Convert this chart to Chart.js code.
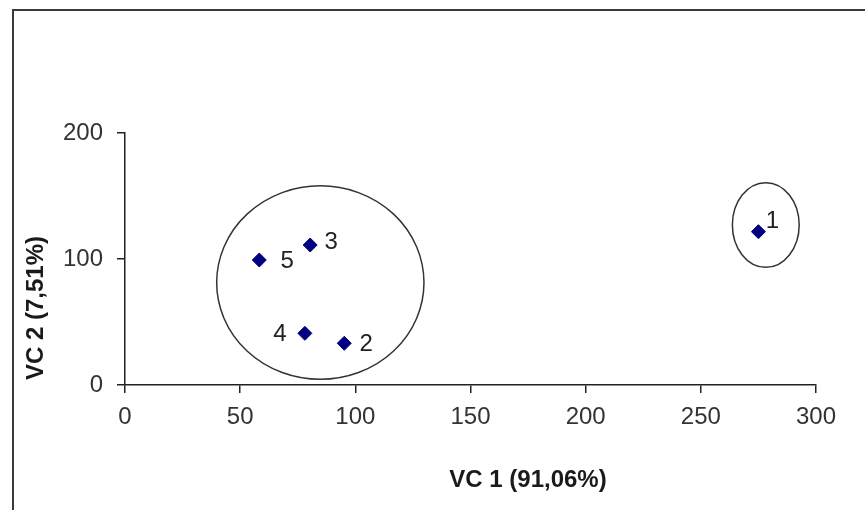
<!DOCTYPE html>
<html>
<head>
<meta charset="utf-8">
<script src="https://cdn.jsdelivr.net/npm/chart.js@4/dist/chart.umd.min.js"></script>
<style>
html,body{margin:0;padding:0;background:#fff;}
#wrap{position:relative;width:865px;height:510px;}
</style>
</head>
<body>
<div id="wrap"><canvas id="c" width="865" height="510"></canvas></div>
<script>
// ---- data ----
const pointLabels = ['1', '2', '3', '4', '5'];
const vc1Values = [275.0, 95.2, 80.4, 78.1, 58.3];
const vc2Values = [121.7, 33.1, 111.1, 41.0, 99.2];
const xTicks = [0, 50, 100, 150, 200, 250, 300];
const yTicks = [0, 100, 200];
const xTitle = 'VC 1 (91,06%)';
const yTitle = 'VC 2 (7,51%)';
// cluster ellipses (data units): centre x, centre y, radius x, radius y
const ellipseCx = [84.8, 278.2];
const ellipseCy = [81.3, 127.0];
const ellipseRx = [45.0, 14.5];
const ellipseRy = [76.8, 33.6];

// ---- styling (pixel offsets for point labels) ----
const labelDx = [14, 22, 21, -25, 28];
const labelDy = [-10, 1, -3, 1, 1];

const points = vc1Values.map((x, i) => ({x: x, y: vc2Values[i]}));

const decor = {
  id: 'decor',
  beforeDraw(chart) {
    const ctx = chart.ctx;
    ctx.save();
    ctx.strokeStyle = '#3a3a3a';
    ctx.lineWidth = 2;
    ctx.strokeRect(13, 10, 900, 600);
    ctx.restore();
  },
  afterDatasetsDraw(chart) {
    const ctx = chart.ctx;
    const xs = chart.scales.x, ys = chart.scales.y;
    ctx.save();
    // ellipses
    ctx.strokeStyle = '#333';
    ctx.lineWidth = 1.5;
    for (let i = 0; i < ellipseCx.length; i++) {
      const cx = xs.getPixelForValue(ellipseCx[i]);
      const cy = ys.getPixelForValue(ellipseCy[i]);
      const rx = Math.abs(xs.getPixelForValue(ellipseCx[i] + ellipseRx[i]) - cx);
      const ry = Math.abs(ys.getPixelForValue(ellipseCy[i] + ellipseRy[i]) - cy);
      ctx.beginPath();
      ctx.ellipse(cx, cy, rx, ry, 0, 0, Math.PI * 2);
      ctx.stroke();
    }
    // point labels
    const meta = chart.getDatasetMeta(0);
    ctx.fillStyle = '#222';
    ctx.font = '24px "Liberation Sans", Arial, sans-serif';
    ctx.textAlign = 'center';
    ctx.textBaseline = 'middle';
    meta.data.forEach((el, i) => {
      ctx.fillText(pointLabels[i], el.x + labelDx[i], el.y + labelDy[i]);
    });
    // axis titles
    ctx.fillStyle = '#1a1a1a';
    ctx.font = 'bold 24px "Liberation Sans", Arial, sans-serif';
    ctx.fillText(xTitle, 528, 480);
    ctx.translate(36, 308);
    ctx.rotate(-Math.PI / 2);
    ctx.fillText(yTitle, 0, 0);
    ctx.restore();
  }
};

new Chart(document.getElementById('c'), {
  type: 'scatter',
  data: {
    datasets: [{
      data: points,
      pointStyle: 'rectRot',
      pointRadius: 7,
      pointHoverRadius: 7,
      backgroundColor: '#000080',
      borderColor: '#000080',
      borderWidth: 1
    }]
  },
  options: {
    responsive: false,
    animation: false,
    events: [],
    layout: {padding: {left: 14, right: 49, top: 133, bottom: 10}},
    plugins: {legend: {display: false}, tooltip: {enabled: false}},
    scales: {
      x: {
        type: 'linear', min: 0, max: 300,
        afterBuildTicks(s) { s.ticks = xTicks.map(v => ({value: v})); },
        afterFit(s) { s.height = 115; },
        grid: {drawOnChartArea: false, drawTicks: true, tickLength: 8, color: '#222', lineWidth: 1.5},
        border: {display: true, color: '#222', width: 1.5},
        ticks: {color: '#333', padding: 10, maxRotation: 0, font: {family: '"Liberation Sans", Arial, sans-serif', size: 24}}
      },
      y: {
        type: 'linear', min: 0, max: 200,
        afterBuildTicks(s) { s.ticks = yTicks.map(v => ({value: v})); },
        afterFit(s) { s.width = 111; },
        grid: {drawOnChartArea: false, drawTicks: true, tickLength: 8, color: '#222', lineWidth: 1.5},
        border: {display: true, color: '#222', width: 1.5},
        ticks: {color: '#333', padding: 14, font: {family: '"Liberation Sans", Arial, sans-serif', size: 24}}
      }
    }
  },
  plugins: [decor]
});
</script>
</body>
</html>
